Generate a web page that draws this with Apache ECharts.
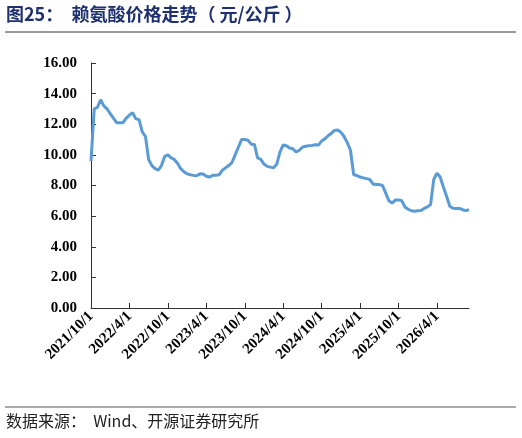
<!DOCTYPE html>
<html><head><meta charset="utf-8">
<script src="https://cdn.jsdelivr.net/npm/echarts@6/dist/echarts.min.js"></script>
<style>html,body{margin:0;padding:0;background:#fff}#c{width:522px;height:438px}</style>
</head><body><div id="c"></div>
<script>
const titleText = '图25：  赖氨酸价格走势（ 元/公斤 ）';
const sourceText = '数据来源：  Wind、开源证券研究所';
const yTicks = ['0.00','2.00','4.00','6.00','8.00','10.00','12.00','14.00','16.00'];
const startYear = 2021, startMonth = 10; // semi-monthly points from 2021/10/1
const prices = [
9.6,13.0,13.1,13.6,13.2,13.0,12.7,12.4,12.1,12.1,12.1,12.4,12.6,12.75,12.35,12.3,11.5,11.2,9.7,9.3,
9.1,9.0,9.3,9.9,10.0,9.8,9.7,9.45,9.1,8.9,8.76,8.7,8.66,8.64,8.76,8.75,8.6,8.55,8.67,8.67,
8.7,9.0,9.15,9.3,9.5,10.0,10.5,11.0,11.0,10.96,10.7,10.68,9.8,9.7,9.4,9.25,9.2,9.15,9.4,10.2,
10.65,10.6,10.45,10.4,10.2,10.3,10.5,10.57,10.6,10.62,10.66,10.65,10.9,11.05,11.25,11.4,11.6,11.62,11.48,11.2,
10.8,10.3,8.7,8.65,8.55,8.5,8.45,8.4,8.1,8.06,8.06,8.0,7.5,7.0,6.85,7.05,7.06,7.0,6.6,6.45,
6.35,6.32,6.35,6.36,6.5,6.6,6.75,8.4,8.8,8.55,7.9,7.3,6.65,6.52,6.5,6.5,6.42,6.36,6.42];
const dates = [];
for (let i = 0; i < prices.length; i++) {
  const mm = startMonth - 1 + Math.floor(i / 2);
  const y = startYear + Math.floor(mm / 12), m = mm % 12 + 1;
  dates.push(y + '/' + m + '/' + (i % 2 ? 16 : 1));
}
const chart = echarts.init(document.getElementById('c'));
const serif = '"Liberation Serif","DejaVu Serif",serif';
chart.setOption({
  animation:false,
  grid:{left:91,right:53,top:63,bottom:130},
  xAxis:{type:'category',data:dates,boundaryGap:false,
    axisLine:{lineStyle:{color:'#333',width:1}},
    axisTick:{interval:11,length:5,inside:true,lineStyle:{color:'#333'}},
    axisLabel:{interval:11,rotate:45,color:'#000',fontFamily:serif,fontWeight:'bold',fontSize:15,margin:6},
    splitLine:{show:false}},
  yAxis:{type:'value',min:0,max:16,interval:2,
    axisLine:{show:true,lineStyle:{color:'#333'}},
    axisTick:{show:true,inside:true,length:5,lineStyle:{color:'#333'}},
    axisLabel:{color:'#000',fontFamily:serif,fontWeight:'bold',fontSize:15,margin:14,
      formatter:(v)=>yTicks[Math.round(v/2)]},
    splitLine:{show:false}},
  series:[{type:'line',data:prices,showSymbol:false,lineStyle:{color:'#5B9BD5',width:3}}],
  graphic:[
    {type:'text',left:6,top:5,style:{text:titleText,fill:'#1F3071',font:'bold 18px "Noto Sans CJK SC"'}},
    {type:'line',shape:{x1:5,y1:32,x2:516,y2:32},style:{stroke:'#333',lineWidth:1}},
    {type:'line',shape:{x1:5,y1:407,x2:516,y2:407},style:{stroke:'#555',lineWidth:1}},
    {type:'text',left:6,top:413,style:{text:sourceText,fill:'#222',font:'16px "Noto Sans CJK SC"'}}
  ]
});
</script></body></html>
